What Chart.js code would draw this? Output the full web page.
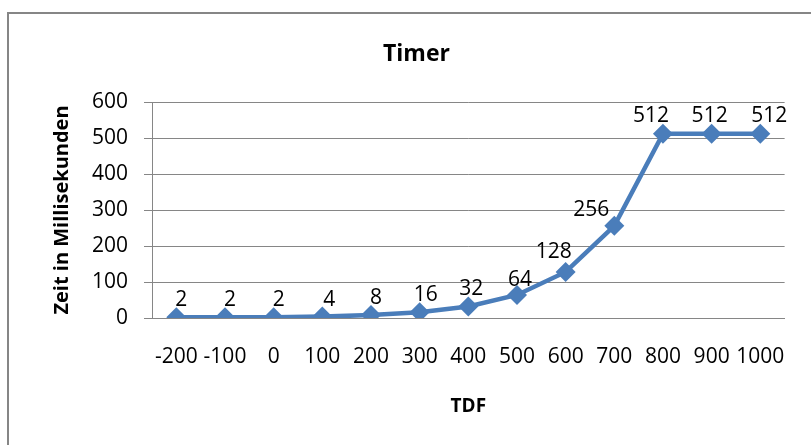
<!DOCTYPE html>
<html>
<head>
<meta charset="utf-8">
<script src="https://cdn.jsdelivr.net/npm/chart.js@4.4.1/dist/chart.umd.min.js"></script>
<style>
  html, body { margin: 0; padding: 0; background: #fff; }
  #wrap { width: 811px; height: 445px; }
</style>
</head>
<body>
<div id="wrap"><canvas id="timerChart" width="811" height="445"></canvas></div>
<script>
// data
const tdf = ['-200', '-100', '0', '100', '200', '300', '400', '500', '600', '700', '800', '900', '1000'];
const zeitMs = [2, 2, 2, 4, 8, 16, 32, 64, 128, 256, 512, 512, 512];
const yTicks = [0, 100, 200, 300, 400, 500, 600];

// where each value label sits relative to its point (dx, dy in px)
const labelShift = [
  [5, -17], [5, -17], [5, -17], [7, -17], [5, -17], [6, -17], [3, -17],
  [3, -15], [-12, -20], [-23, -16], [-12, -18], [-2, -18], [9, -18]
];

const fontFam = '"Open Sans", "DejaVu Sans", sans-serif';
const gray = '#868686';
const blue = '#4a7dba';

const framePlugin = {
    id: 'frame',
    beforeDraw(chart) {
        const ctx = chart.ctx;
        ctx.save();
        ctx.fillStyle = '#fff';
        ctx.fillRect(0, 0, chart.width, chart.height);
        ctx.strokeStyle = gray;
        ctx.lineWidth = 2;
        ctx.strokeRect(8, 13, 900, 500);
        ctx.restore();
    }
};

const valueLabels = {
    id: 'valueLabels',
    afterDatasetsDraw(chart) {
        const ctx = chart.ctx;
        const meta = chart.getDatasetMeta(0);
        ctx.save();
        ctx.font = '21px ' + fontFam;
        ctx.fillStyle = '#000';
        ctx.textAlign = 'center';
        ctx.textBaseline = 'middle';
        meta.data.forEach((pt, i) => {
            const s = labelShift[i] || [0, -17];
            ctx.fillText(String(zeitMs[i]), pt.x + s[0], pt.y + s[1]);
        });
        ctx.restore();
    }
};

new Chart(document.getElementById('timerChart'), {
    type: 'line',
    data: {
        labels: tdf,
        datasets: [{
            label: 'Zeit',
            data: zeitMs,
            borderColor: blue,
            backgroundColor: blue,
            borderWidth: 4.5,
            pointStyle: 'rectRot',
            pointRadius: 10,
            pointHoverRadius: 10,
            pointBorderWidth: 0,
            tension: 0
        }]
    },
    plugins: [framePlugin, valueLabels],
    options: {
        responsive: false,
        animation: false,
        events: [],
        layout: { padding: { left: 40, right: 18, top: 0, bottom: 27 } },
        plugins: {
            legend: { display: false },
            tooltip: { enabled: false },
            title: {
                display: true,
                text: 'Timer',
                color: '#000',
                font: { family: fontFam, size: 23, weight: 'bold', lineHeight: 1.2 },
                padding: { top: 41, bottom: 33.4 }
            }
        },
        scales: {
            x: {
                offset: true,
                grid: { display: false, drawTicks: false },
                border: { display: true, color: gray, width: 1 },
                ticks: {
                    color: '#000',
                    padding: 26,
                    maxRotation: 0,
                    autoSkip: false,
                    font: { family: fontFam, size: 21, lineHeight: 1.2 }
                },
                title: {
                    display: true,
                    text: 'TDF',
                    color: '#000',
                    font: { family: fontFam, size: 19, weight: 'bold', lineHeight: 1.2 },
                    padding: { top: 0, bottom: 0 }
                }
            },
            y: {
                min: 0,
                max: 600,
                afterFit(scale) { scale.width = 112; },
                afterBuildTicks(scale) { scale.ticks = yTicks.map(v => ({ value: v })); },
                grid: { color: gray, lineWidth: 1, tickLength: 8, drawTicks: true },
                border: { display: true, color: gray, width: 1 },
                ticks: {
                    color: '#000',
                    padding: 16,
                    font: { family: fontFam, size: 21, lineHeight: 1.2 }
                },
                title: {
                    display: true,
                    text: 'Zeit in Millisekunden',
                    color: '#000',
                    font: { family: fontFam, size: 20, weight: 'bold', lineHeight: 1.2 },
                    padding: { top: 10, bottom: 0 }
                }
            }
        }
    }
});
</script>
</body>
</html>
